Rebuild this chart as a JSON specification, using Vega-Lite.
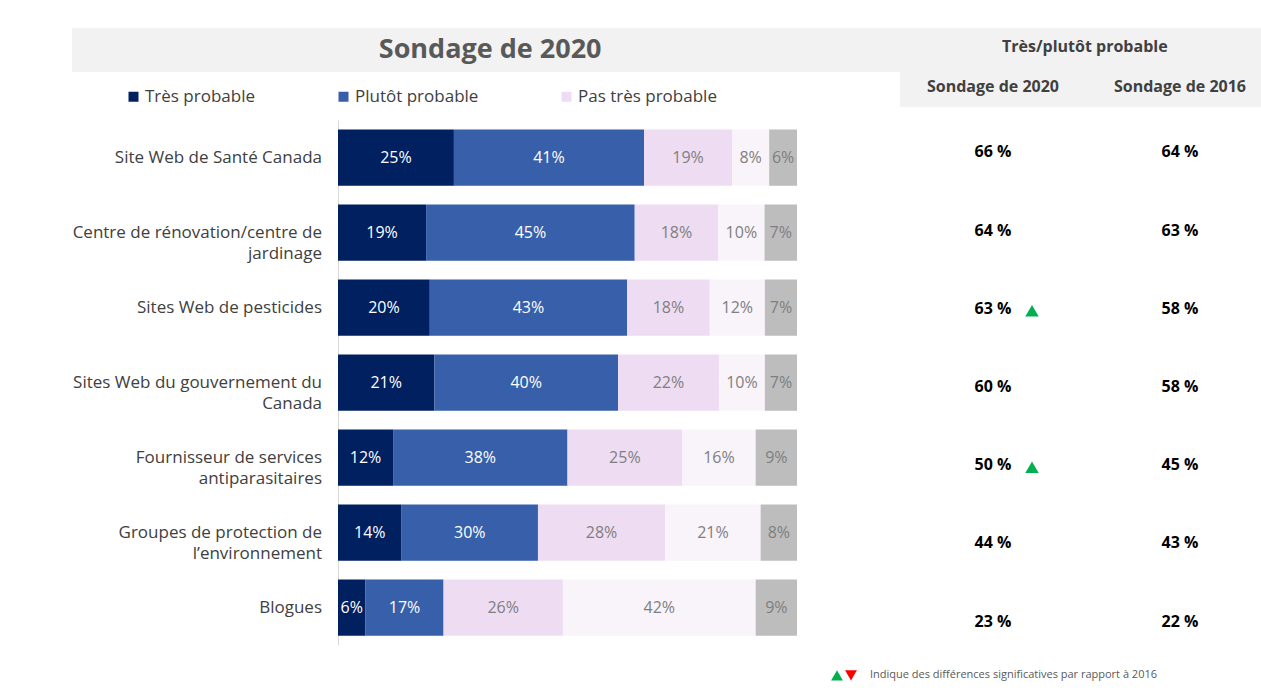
{
  "$schema": "https://vega.github.io/schema/vega-lite/v6.json",
  "padding": {"left": 72, "top": 28, "right": 0, "bottom": 0},
  "background": "white",
  "bounds": "full",
  "spacing": 0,
  "config": {"view": {"stroke": null}, "font": "Open Sans"},
  "datasets": {
    "sources": [
      {"categorie": "Site Web de Santé Canada", "libelle": "Site Web de Santé Canada", "v2020": 66, "v2016": 64, "signif": null},
      {"categorie": "Centre de rénovation/centre de jardinage", "libelle": "Centre de rénovation/centre de\njardinage", "v2020": 64, "v2016": 63, "signif": null},
      {"categorie": "Sites Web de pesticides", "libelle": "Sites Web de pesticides", "v2020": 63, "v2016": 58, "signif": "hausse"},
      {"categorie": "Sites Web du gouvernement du Canada", "libelle": "Sites Web du gouvernement du\nCanada", "v2020": 60, "v2016": 58, "signif": null},
      {"categorie": "Fournisseur de services antiparasitaires", "libelle": "Fournisseur de services\nantiparasitaires", "v2020": 50, "v2016": 45, "signif": "hausse"},
      {"categorie": "Groupes de protection de l’environnement", "libelle": "Groupes de protection de\nl’environnement", "v2020": 44, "v2016": 43, "signif": null},
      {"categorie": "Blogues", "libelle": "Blogues", "v2020": 23, "v2016": 22, "signif": null}
    ],
    "reponses": [
      {"categorie": "Site Web de Santé Canada", "reponse": "Très probable", "ordre": 1, "valeur": 0.25},
      {"categorie": "Site Web de Santé Canada", "reponse": "Plutôt probable", "ordre": 2, "valeur": 0.41},
      {"categorie": "Site Web de Santé Canada", "reponse": "Pas très probable", "ordre": 3, "valeur": 0.19},
      {"categorie": "Site Web de Santé Canada", "reponse": "Pas du tout probable", "ordre": 4, "valeur": 0.08},
      {"categorie": "Site Web de Santé Canada", "reponse": "Ne sait pas", "ordre": 5, "valeur": 0.06},
      {"categorie": "Centre de rénovation/centre de jardinage", "reponse": "Très probable", "ordre": 1, "valeur": 0.19},
      {"categorie": "Centre de rénovation/centre de jardinage", "reponse": "Plutôt probable", "ordre": 2, "valeur": 0.45},
      {"categorie": "Centre de rénovation/centre de jardinage", "reponse": "Pas très probable", "ordre": 3, "valeur": 0.18},
      {"categorie": "Centre de rénovation/centre de jardinage", "reponse": "Pas du tout probable", "ordre": 4, "valeur": 0.10},
      {"categorie": "Centre de rénovation/centre de jardinage", "reponse": "Ne sait pas", "ordre": 5, "valeur": 0.07},
      {"categorie": "Sites Web de pesticides", "reponse": "Très probable", "ordre": 1, "valeur": 0.20},
      {"categorie": "Sites Web de pesticides", "reponse": "Plutôt probable", "ordre": 2, "valeur": 0.43},
      {"categorie": "Sites Web de pesticides", "reponse": "Pas très probable", "ordre": 3, "valeur": 0.18},
      {"categorie": "Sites Web de pesticides", "reponse": "Pas du tout probable", "ordre": 4, "valeur": 0.12},
      {"categorie": "Sites Web de pesticides", "reponse": "Ne sait pas", "ordre": 5, "valeur": 0.07},
      {"categorie": "Sites Web du gouvernement du Canada", "reponse": "Très probable", "ordre": 1, "valeur": 0.21},
      {"categorie": "Sites Web du gouvernement du Canada", "reponse": "Plutôt probable", "ordre": 2, "valeur": 0.40},
      {"categorie": "Sites Web du gouvernement du Canada", "reponse": "Pas très probable", "ordre": 3, "valeur": 0.22},
      {"categorie": "Sites Web du gouvernement du Canada", "reponse": "Pas du tout probable", "ordre": 4, "valeur": 0.10},
      {"categorie": "Sites Web du gouvernement du Canada", "reponse": "Ne sait pas", "ordre": 5, "valeur": 0.07},
      {"categorie": "Fournisseur de services antiparasitaires", "reponse": "Très probable", "ordre": 1, "valeur": 0.12},
      {"categorie": "Fournisseur de services antiparasitaires", "reponse": "Plutôt probable", "ordre": 2, "valeur": 0.38},
      {"categorie": "Fournisseur de services antiparasitaires", "reponse": "Pas très probable", "ordre": 3, "valeur": 0.25},
      {"categorie": "Fournisseur de services antiparasitaires", "reponse": "Pas du tout probable", "ordre": 4, "valeur": 0.16},
      {"categorie": "Fournisseur de services antiparasitaires", "reponse": "Ne sait pas", "ordre": 5, "valeur": 0.09},
      {"categorie": "Groupes de protection de l’environnement", "reponse": "Très probable", "ordre": 1, "valeur": 0.14},
      {"categorie": "Groupes de protection de l’environnement", "reponse": "Plutôt probable", "ordre": 2, "valeur": 0.30},
      {"categorie": "Groupes de protection de l’environnement", "reponse": "Pas très probable", "ordre": 3, "valeur": 0.28},
      {"categorie": "Groupes de protection de l’environnement", "reponse": "Pas du tout probable", "ordre": 4, "valeur": 0.21},
      {"categorie": "Groupes de protection de l’environnement", "reponse": "Ne sait pas", "ordre": 5, "valeur": 0.08},
      {"categorie": "Blogues", "reponse": "Très probable", "ordre": 1, "valeur": 0.06},
      {"categorie": "Blogues", "reponse": "Plutôt probable", "ordre": 2, "valeur": 0.17},
      {"categorie": "Blogues", "reponse": "Pas très probable", "ordre": 3, "valeur": 0.26},
      {"categorie": "Blogues", "reponse": "Pas du tout probable", "ordre": 4, "valeur": 0.42},
      {"categorie": "Blogues", "reponse": "Ne sait pas", "ordre": 5, "valeur": 0.09}
    ],
    "entete": [
      {"texte": "Très/plutôt probable", "rang": "haut", "colonne": "ensemble"},
      {"texte": "Sondage de 2020", "rang": "bas", "colonne": "2020"},
      {"texte": "Sondage de 2016", "rang": "bas", "colonne": "2016"}
    ]
  },
  "hconcat": [
    {
      "bounds": "flush",
      "spacing": 48,
      "vconcat": [
        {
          "width": 828,
          "height": 44,
          "view": {"fill": "#f2f2f2", "stroke": null},
          "data": {"values": [{"titre": "Sondage de 2020"}]},
          "mark": {"type": "text", "fontSize": 27, "fontWeight": "bold", "color": "#595959"},
          "encoding": {
            "x": {"field": "titre", "type": "nominal", "scale": {"type": "point", "align": 0.505}, "axis": null},
            "y": {"field": "titre", "type": "nominal", "scale": {"type": "point"}, "axis": null},
            "text": {"field": "titre"}
          }
        },
        {
          "bounds": "flush",
          "spacing": 0,
          "hconcat": [
            {
              "width": 266,
              "height": 525,
              "data": {"name": "sources"},
              "mark": {"type": "text", "align": "right", "baseline": "middle", "fontSize": 17, "color": "#404040", "lineBreak": "\n", "lineHeight": 21, "x": 250},
              "encoding": {
                "y": {"field": "categorie", "type": "nominal", "sort": ["Site Web de Santé Canada", "Centre de rénovation/centre de jardinage", "Sites Web de pesticides", "Sites Web du gouvernement du Canada", "Fournisseur de services antiparasitaires", "Groupes de protection de l’environnement", "Blogues"], "scale": {"type": "point", "padding": 0.5}, "axis": null},
                "text": {"field": "libelle"}
              }
            },
            {
              "width": 459,
              "height": 525,
              "data": {"name": "reponses"},
              "encoding": {
                "y": {"field": "categorie", "type": "nominal", "sort": ["Site Web de Santé Canada", "Centre de rénovation/centre de jardinage", "Sites Web de pesticides", "Sites Web du gouvernement du Canada", "Fournisseur de services antiparasitaires", "Groupes de protection de l’environnement", "Blogues"], "scale": {"paddingInner": 0.25, "paddingOuter": 0.125}, "axis": {"title": null, "labels": false, "ticks": false, "grid": false, "domainColor": "#d9d9d9", "domainWidth": 1}}
              },
              "layer": [
                {
                  "mark": {"type": "bar"},
                  "encoding": {
                    "x": {"field": "valeur", "type": "quantitative", "stack": "normalize", "axis": null},
                    "color": {
                      "field": "reponse", "type": "nominal",
                      "scale": {"domain": ["Très probable", "Plutôt probable", "Pas très probable", "Pas du tout probable", "Ne sait pas"], "range": ["#002060", "#375FAA", "#EEDCF2", "#F9F3FA", "#BDBDBD"]},
                      "legend": {"orient": "none", "legendX": 53, "legendY": 60, "direction": "horizontal", "title": null, "values": ["Très probable", "Plutôt probable", "Pas très probable"], "symbolType": "square", "symbolSize": 100, "symbolStrokeWidth": 0, "labelFontSize": 17, "labelColor": "#404040", "labelOffset": 3, "columnPadding": 79}
                    },
                    "order": {"field": "ordre"}
                  }
                },
                {
                  "mark": {"type": "text", "fontSize": 16, "baseline": "middle"},
                  "encoding": {
                    "x": {"field": "valeur", "type": "quantitative", "stack": "normalize", "bandPosition": 0.5},
                    "detail": {"field": "reponse"},
                    "text": {"field": "valeur", "format": ".0%"},
                    "color": {"condition": {"test": "datum.ordre <= 2", "value": "white"}, "value": "#7f7f7f"},
                    "order": {"field": "ordre"}
                  }
                }
              ]
            }
          ]
        }
      ]
    },
    {
      "bounds": "flush",
      "spacing": 0,
      "vconcat": [
        {
          "width": 361,
          "height": 79,
          "view": {"fill": "#f2f2f2", "stroke": null},
          "data": {"name": "entete"},
          "encoding": {
            "y": {"field": "rang", "type": "nominal", "scale": {"type": "point", "domain": ["haut", "bas"], "padding": 0.4875, "align": 0.487}, "axis": null},
            "text": {"field": "texte"}
          },
          "layer": [
            {
              "transform": [{"filter": "datum.rang == 'haut'"}],
              "mark": {"type": "text", "fontSize": 16, "fontWeight": "bold", "color": "#404040"},
              "encoding": {"x": {"field": "colonne", "type": "nominal", "scale": {"type": "point", "align": 0.512}, "axis": null}}
            },
            {
              "transform": [{"filter": "datum.rang == 'bas'"}],
              "mark": {"type": "text", "fontSize": 16, "fontWeight": "bold", "color": "#404040"},
              "encoding": {"x": {"field": "colonne", "type": "nominal", "scale": {"type": "point", "domain": ["2020", "2016"], "padding": 0.4652, "align": 0.5345}, "axis": null}}
            }
          ],
          "resolve": {"scale": {"x": "independent"}}
        },
        {
          "width": 361,
          "height": 560,
          "data": {"name": "sources"},
          "encoding": {
            "y": {"field": "categorie", "type": "nominal", "sort": ["Site Web de Santé Canada", "Centre de rénovation/centre de jardinage", "Sites Web de pesticides", "Sites Web du gouvernement du Canada", "Fournisseur de services antiparasitaires", "Groupes de protection de l’environnement", "Blogues"], "scale": {"type": "point", "padding": 0.58}, "axis": null}
          },
          "layer": [
            {
              "transform": [
                {"fold": ["v2020", "v2016"], "as": ["annee", "pct"]},
                {"calculate": "datum.pct + ' %'", "as": "etiquette"}
              ],
              "mark": {"type": "text", "fontSize": 16, "fontWeight": "bold", "color": "black"},
              "encoding": {
                "x": {"field": "annee", "type": "nominal", "scale": {"type": "point", "domain": ["v2020", "v2016"], "padding": 0.4652, "align": 0.5345}, "axis": null},
                "text": {"field": "etiquette"}
              }
            },
            {
              "transform": [{"filter": "datum.signif != null"}],
              "mark": {"type": "point", "filled": true, "size": 180, "xOffset": 39, "yOffset": 2, "opacity": 1, "strokeWidth": 0},
              "encoding": {
                "x": {"datum": "v2020", "type": "nominal"},
                "shape": {"field": "signif", "type": "nominal", "scale": {"domain": ["hausse", "baisse"], "range": ["triangle-up", "triangle-down"]},
                  "legend": {"orient": "none", "legendX": 759, "legendY": 641, "direction": "horizontal", "title": "Indique des différences significatives par rapport à 2016", "titleOrient": "right", "titleFontSize": 11, "titleFontWeight": "normal", "titleColor": "#595959", "titlePadding": 13, "titleLimit": 500, "labelExpr": "''", "labelOffset": 0, "columnPadding": 2, "symbolSize": 140, "symbolStrokeWidth": 0}},
                "fill": {"field": "signif", "type": "nominal", "scale": {"domain": ["hausse", "baisse"], "range": ["#00B050", "#FF0000"]},
                  "legend": {"orient": "none", "legendX": 759, "legendY": 641, "direction": "horizontal", "title": "Indique des différences significatives par rapport à 2016", "titleOrient": "right", "titleFontSize": 11, "titleFontWeight": "normal", "titleColor": "#595959", "titlePadding": 13, "titleLimit": 500, "labelExpr": "''", "labelOffset": 0, "columnPadding": 2, "symbolSize": 140, "symbolStrokeWidth": 0}}
              }
            }
          ]
        }
      ]
    }
  ]
}
